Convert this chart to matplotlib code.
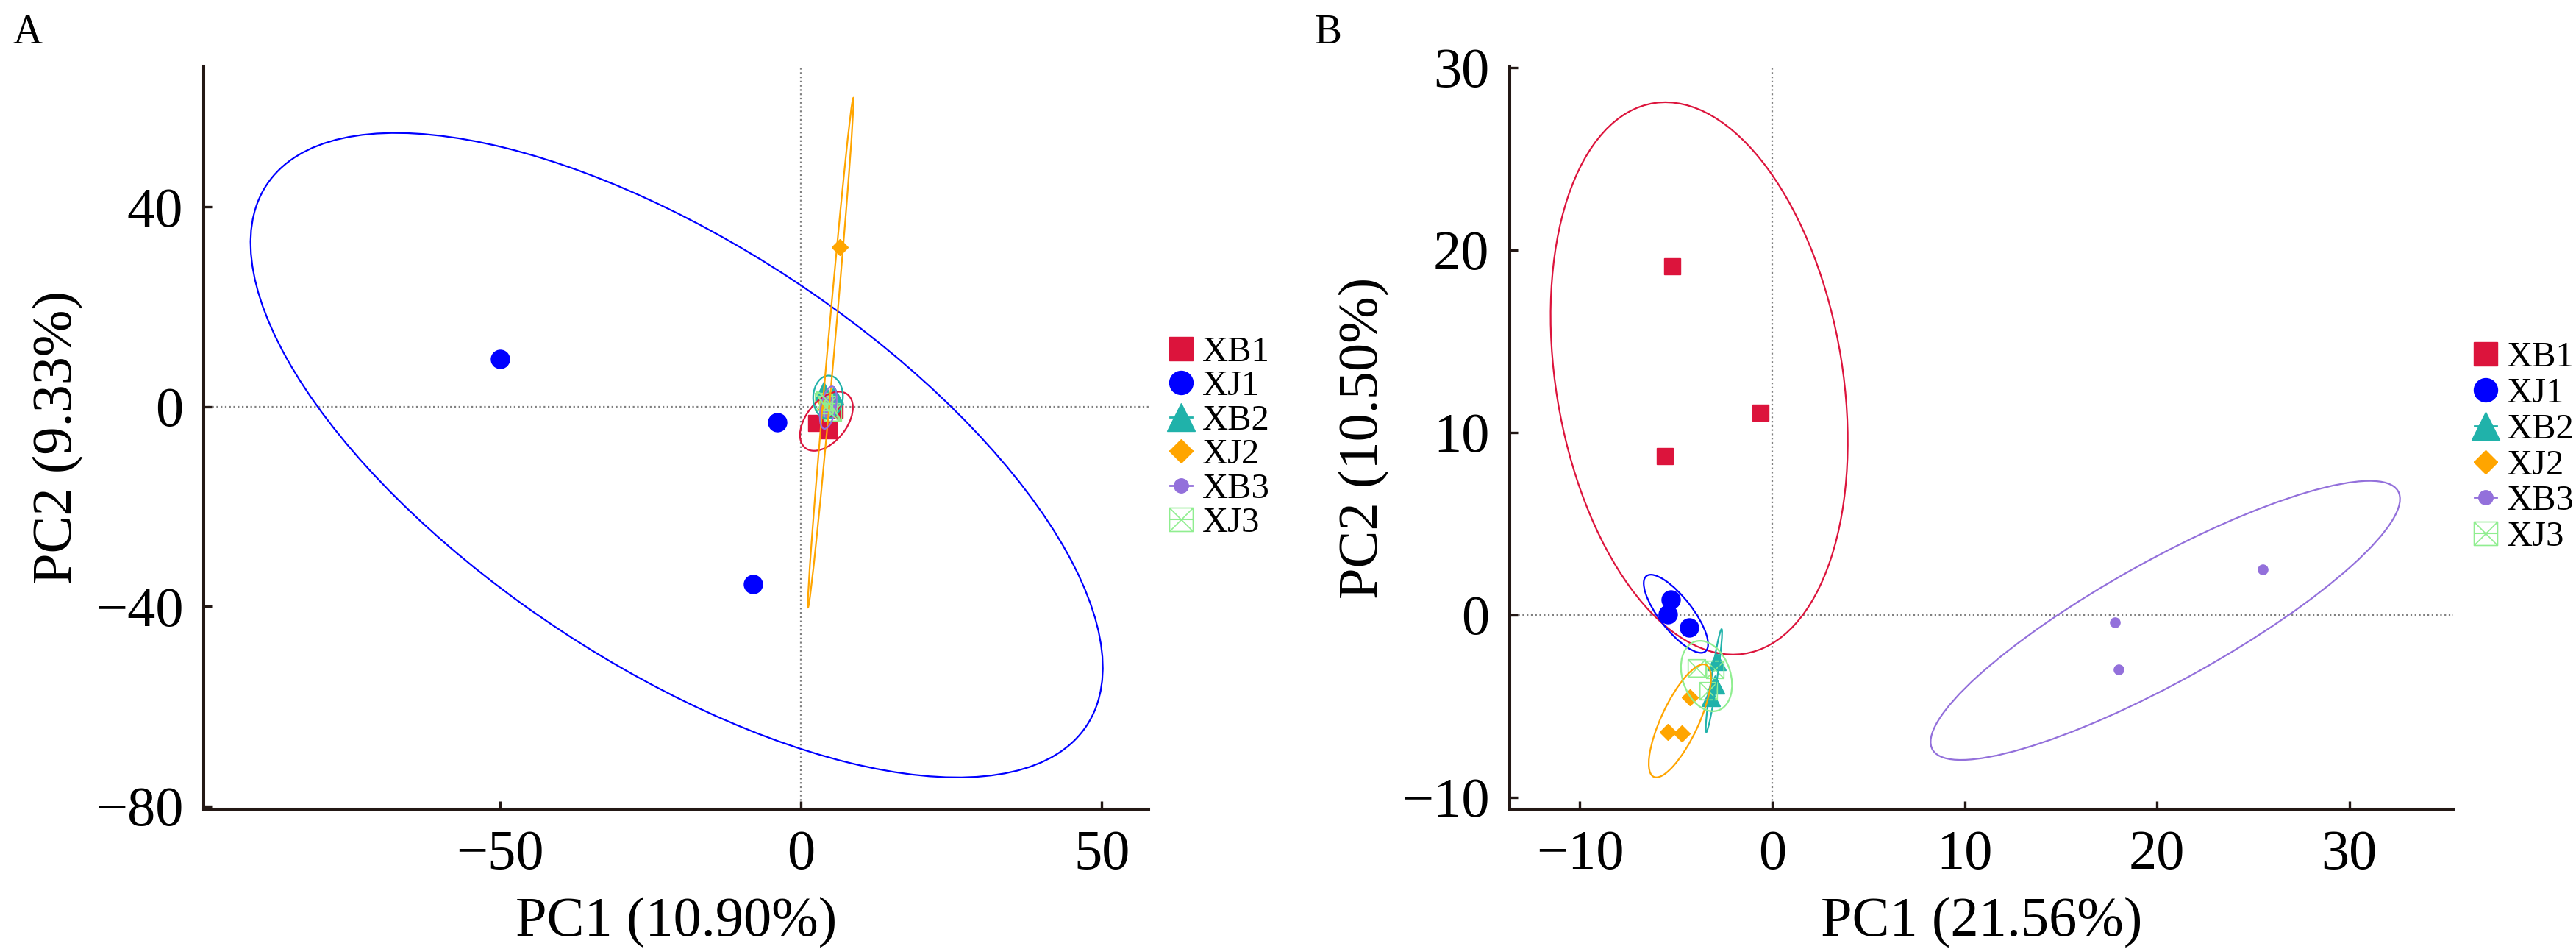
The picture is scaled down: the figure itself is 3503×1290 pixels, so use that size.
import matplotlib
matplotlib.use("Agg")
import matplotlib.pyplot as plt
from matplotlib.patches import Ellipse
from matplotlib.lines import Line2D
from matplotlib.path import Path
import numpy as np

plt.rcParams['font.family'] = ['Liberation Serif', 'DejaVu Serif']

groups = ["XB1", "XJ1", "XB2", "XJ2", "XB3", "XJ3"]
colors = ["crimson", "blue", "lightseagreen", "orange", "mediumpurple", "lightgreen"]

# panel A scores (PC1, PC2)
a_x = {
    "XB1": [2.5, 4.6, 5.6],
    "XJ1": [-50.0, -8.0, -4.0],
    "XB2": [3.8, 5.5, 4.2],
    "XJ2": [4.0, 4.3, 6.5],
    "XB3": [4.6, 5.0, 4.0],
    "XJ3": [4.5, 5.2, 3.8],
}
a_y = {
    "XB1": [-3.3, -4.8, -0.6],
    "XJ1": [9.5, -35.5, -3.1],
    "XB2": [3.2, 2.4, 0.2],
    "XJ2": [1.0, -0.5, 32.0],
    "XB3": [1.5, -0.5, -1.5],
    "XJ3": [0.5, -1.0, 1.0],
}

# panel B scores
b_x = {
    "XB1": [-5.2, -0.6, -5.6],
    "XJ1": [-5.28, -5.43, -4.32],
    "XB2": [-2.9, -3.0, -3.2],
    "XJ2": [-4.28, -5.43, -4.70],
    "XB3": [17.8, 18.0, 25.5],
    "XJ3": [-3.94, -3.0, -3.32],
}
b_y = {
    "XB1": [19.1, 11.1, 8.7],
    "XJ1": [0.85, 0.04, -0.69],
    "XB2": [-2.5, -3.8, -4.5],
    "XJ2": [-4.52, -6.41, -6.49],
    "XB3": [-0.4, -3.0, 2.5],
    "XJ3": [-2.9, -3.0, -4.15],
}

pct_a = ("PC1 (10.90%)", "PC2 (9.33%)")
pct_b = ("PC1 (21.56%)", "PC2 (10.50%)")

# square with a cross inside
box_x = Path([(-1, -1), (1, -1), (1, 1), (-1, 1), (-1, -1), (-1, -1), (1, 1), (-1, 1), (1, -1)],
             [Path.MOVETO, Path.LINETO, Path.LINETO, Path.LINETO, Path.CLOSEPOLY,
              Path.MOVETO, Path.LINETO, Path.MOVETO, Path.LINETO])

markers = ["s", "o", "^", "D", "o", box_x]
msize = [16, 18, 18, 11.5, 9.5, 17]
leg_size = [23, 23, 28, 16, 14, 23]

K = 2.78  # ellipse scale (sd units)


def conf_ellipse(ax, x, y, color):
    x = np.asarray(x)
    y = np.asarray(y)
    cov = np.cov(x, y)
    vals, vecs = np.linalg.eigh(cov)
    order = vals.argsort()[::-1]
    vals, vecs = vals[order], vecs[:, order]
    ang = np.degrees(np.arctan2(vecs[1, 0], vecs[0, 0]))
    w, h = 2 * K * np.sqrt(np.maximum(vals, 0))
    e = Ellipse((x.mean(), y.mean()), w, h, angle=ang, fill=False,
                edgecolor=color, lw=1.6, zorder=4)
    ax.add_patch(e)


def draw_panel(ax, xs, ys, labels, xlim, ylim, xt, yt, leg_y, leg_sp):
    ax.axhline(0, color="gray", lw=1.6, ls=(0, (1, 1.6)), zorder=1)
    ax.axvline(0, color="gray", lw=1.6, ls=(0, (1, 1.6)), zorder=1)
    for g, c, m, s in zip(groups, colors, markers, msize):
        if g == "XJ3":
            ax.plot(xs[g], ys[g], ls="none", marker=m, ms=s, mfc="none",
                    mec=c, mew=1.2, zorder=3)
        else:
            ax.plot(xs[g], ys[g], ls="none", marker=m, ms=s, color=c, zorder=3)
        conf_ellipse(ax, xs[g], ys[g], c)
    ax.set_xlim(*xlim)
    ax.set_ylim(*ylim)
    ax.set_xticks(xt)
    ax.set_yticks(yt)
    for sp in ["top", "right"]:
        ax.spines[sp].set_visible(False)
    for sp in ["left", "bottom"]:
        ax.spines[sp].set_linewidth(2.9)
        ax.spines[sp].set_color("#231815")
    ax.tick_params(direction="in", length=8, width=2.4, color="#231815",
                   labelsize=55, pad=20)
    ax.set_xlabel(labels[0], fontsize=55, labelpad=16)
    ax.set_ylabel(labels[1], fontsize=55, labelpad=12)

    handles = []
    for g, c, m, s in zip(groups, colors, markers, leg_size):
        if g == "XJ3":
            h = Line2D([], [], color=c, lw=1.5, marker=m, ms=s, mfc="none", mec=c, mew=1.2)
        else:
            h = Line2D([], [], color=c, lw=2, marker=m, ms=s)
        handles.append(h)
    ax.legend(handles, groups, loc="center left", bbox_to_anchor=(1.0, leg_y),
              frameon=False, fontsize=35, handlelength=0.62, handletextpad=0.27,
              labelspacing=leg_sp, borderaxespad=0.2)


fig = plt.figure(figsize=(35.03, 12.90), dpi=100)
axA = fig.add_axes([277 / 3503, 190 / 1290, 1285 / 3503, 1010 / 1290])
axB = fig.add_axes([2053 / 3503, 190 / 1290, 1283 / 3503, 1010 / 1290])

draw_panel(axA, a_x, a_y, pct_a, (-99.3, 57.8), (-80.6, 68.2),
           [-50, 0, 50], [-80, -40, 0, 40], 0.5, 0.05)
draw_panel(axB, b_x, b_y, pct_b, (-13.65, 35.4), (-10.65, 30.08),
           [-10, 0, 10, 20, 30], [-10, 0, 10, 20, 30], 0.487, 0.1)

fig.text(18 / 3503, 1 - 45 / 1290, "A", fontsize=40, va="center", ha="left")
fig.text(1787 / 3503, 1 - 45 / 1290, "B", fontsize=40, va="center", ha="left")

fig.savefig("out.png", dpi=100)
